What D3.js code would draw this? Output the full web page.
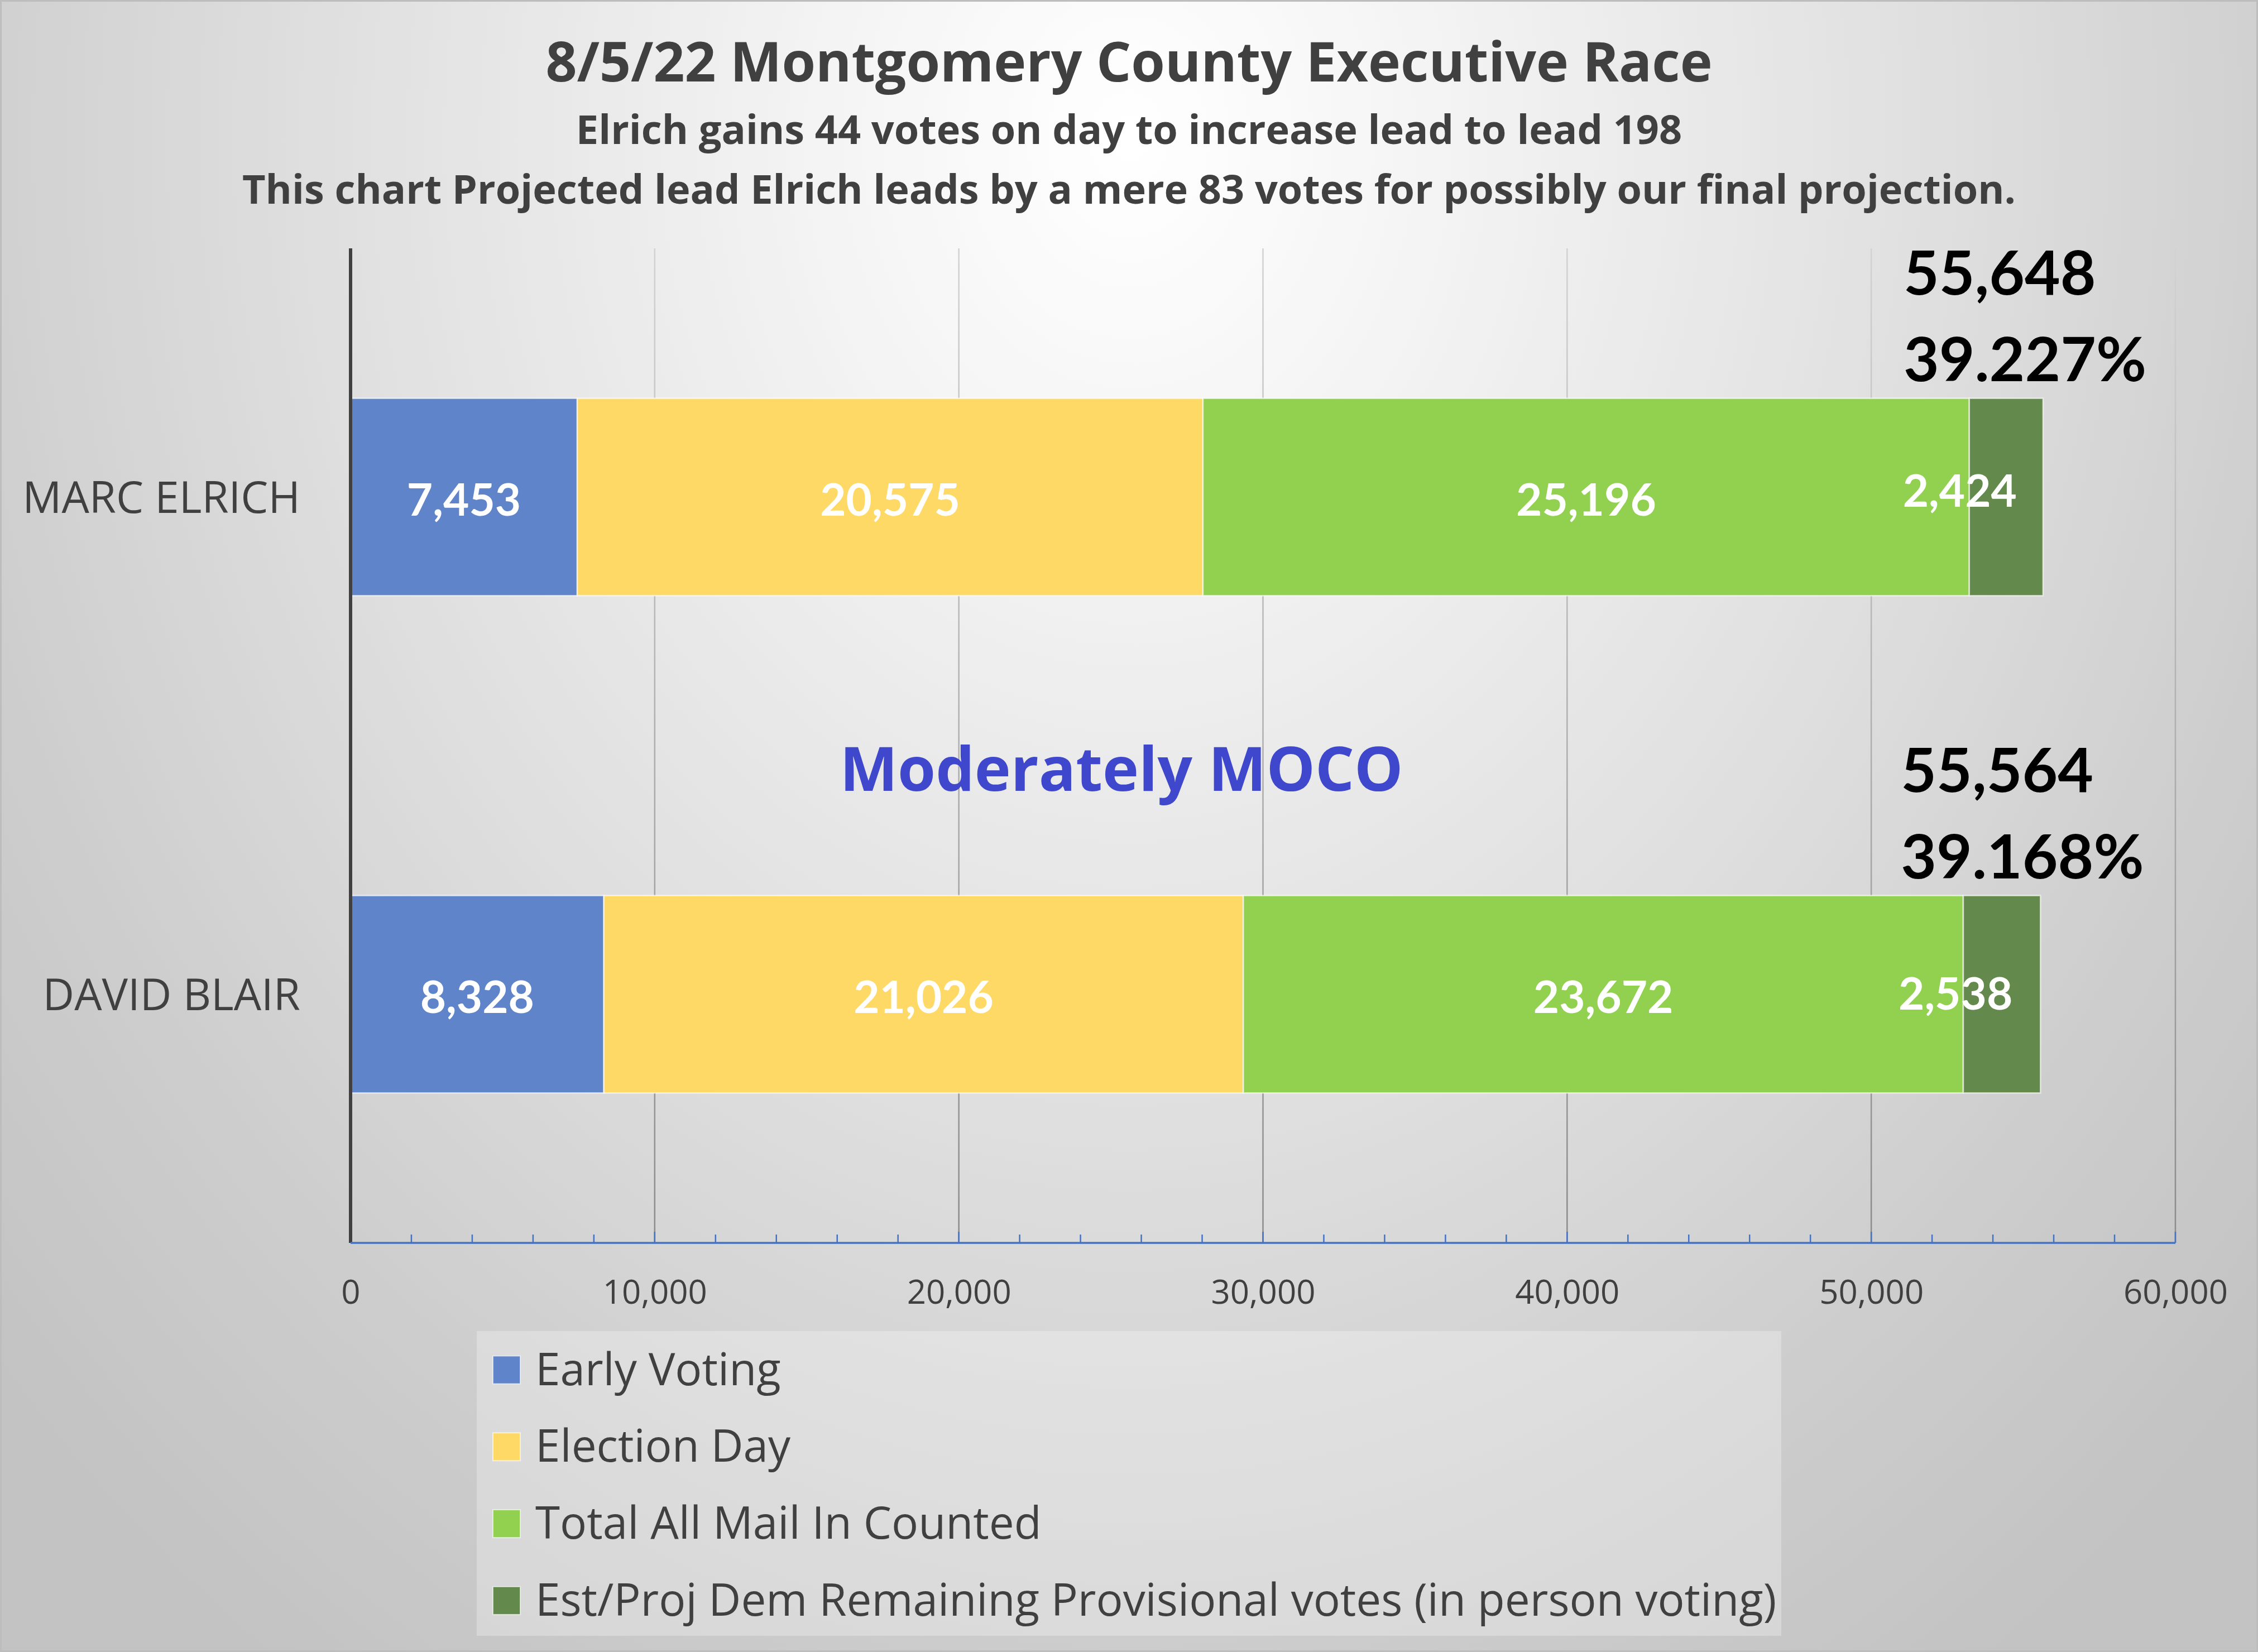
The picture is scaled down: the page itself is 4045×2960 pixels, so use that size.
<!DOCTYPE html>
<html><head><meta charset="utf-8">
<script src="https://cdn.jsdelivr.net/npm/d3@7"></script>
<style>html,body{margin:0;padding:0;background:#fff}svg{display:block}</style>
</head><body>
<script>
// ---- data ----
const categories = ["MARC ELRICH", "DAVID BLAIR"];
const seriesNames = ["Early Voting", "Election Day", "Total All Mail In Counted", "Est/Proj Dem Remaining Provisional votes (in person voting)"];
const earlyVoting = [7453, 8328];
const electionDay = [20575, 21026];
const mailInCounted = [25196, 23672];
const provisional = [2424, 2538];
const totals = [55648, 55564];
const percents = ["39.227%", "39.168%"];
const xTickValues = [0, 10000, 20000, 30000, 40000, 50000, 60000];
const titleText = "8/5/22 Montgomery County Executive Race";
const subtitleLines = ["Elrich gains 44 votes on day to increase lead to lead 198",
  "This chart Projected lead Elrich leads by a mere 83 votes for possibly our final projection."];
const watermark = "Moderately MOCO";
const seriesColors = ["#5F84C9", "#FFD966", "#92D050", "#64894C"];

// ---- layout ----
const W = 4045, H = 2960;
const plot = {left: 628, right: 3897, top: 445, bottom: 2227};
const svg = d3.select("body").append("svg").attr("width", W).attr("height", H);
const defs = svg.append("defs");

const bg = defs.append("radialGradient").attr("id", "bg").attr("gradientUnits", "userSpaceOnUse")
  .attr("cx", 2022).attr("cy", 250).attr("r", 3300)
  .attr("gradientTransform", "translate(2022,250) scale(0.82,1) translate(-2022,-250)");
[[0, "#ffffff"], [0.2, "#f4f4f4"], [0.55, "#dedede"], [0.8, "#cdcdcd"], [1, "#c3c3c3"]].forEach(s =>
  bg.append("stop").attr("offset", s[0]).attr("stop-color", s[1]));

const gg = defs.append("linearGradient").attr("id", "grid").attr("gradientUnits", "userSpaceOnUse")
  .attr("x1", 0).attr("y1", plot.top).attr("x2", 0).attr("y2", plot.bottom);
gg.append("stop").attr("offset", 0).attr("stop-color", "#d2d2d2");
gg.append("stop").attr("offset", 1).attr("stop-color", "#8a8a8a");

svg.append("rect").attr("width", W).attr("height", H).attr("fill", "url(#bg)");
svg.append("rect").attr("x", 1.5).attr("y", 1.5).attr("width", W - 3).attr("height", H - 3)
  .attr("fill", "none").attr("stroke", "#bdbdbd").attr("stroke-width", 3);

// ---- scales ----
const x = d3.scaleLinear().domain([0, 60000]).range([plot.left, plot.right]);
const y = d3.scaleBand().domain(categories).range([plot.top, plot.bottom])
  .paddingInner(0.603).paddingOuter(0.3015);

// ---- titles ----
const sans = "'Open Sans', 'Noto Sans', sans-serif";
const calib = "Lato, 'Open Sans', sans-serif";
svg.append("text").attr("x", W / 2).attr("y", 146).attr("text-anchor", "middle")
  .attr("font-family", sans).attr("font-weight", 700).attr("font-size", 98).attr("fill", "#404040")
  .text(titleText);
svg.selectAll("text.sub").data(subtitleLines).join("text").attr("class", "sub")
  .attr("x", W / 2).attr("y", (d, i) => 258 + i * 107).attr("text-anchor", "middle")
  .attr("font-family", sans).attr("font-weight", 700).attr("font-size", 72).attr("fill", "#404040")
  .text(d => d);

// ---- gridlines ----
svg.append("g").selectAll("line").data(xTickValues.filter(v => v > 0)).join("line")
  .attr("x1", d => x(d)).attr("x2", d => x(d)).attr("y1", plot.top).attr("y2", plot.bottom)
  .attr("stroke", "url(#grid)").attr("stroke-width", 2.5);

// ---- watermark ----
svg.append("text").attr("x", 2009).attr("y", 1417).attr("text-anchor", "middle")
  .attr("font-family", sans).attr("font-weight", 700).attr("font-size", 110).attr("fill", "#3F48CC")
  .text(watermark);

// ---- stacked bars ----
const rows = categories.map((c, i) => ({cat: c, "0": earlyVoting[i], "1": electionDay[i], "2": mailInCounted[i], "3": provisional[i]}));
const stack = d3.stack().keys(["0", "1", "2", "3"]);
const layers = stack(rows);
const gBars = svg.append("g");
layers.forEach((layer, li) => {
  gBars.selectAll(null).data(layer).join("rect")
    .attr("x", d => x(d[0])).attr("width", d => x(d[1]) - x(d[0]))
    .attr("y", d => y(d.data.cat)).attr("height", y.bandwidth())
    .attr("fill", seriesColors[li]).attr("stroke", "rgba(255,255,255,0.65)").attr("stroke-width", 2.5);
});
// segment labels
layers.forEach((layer, li) => {
  const dx = li === 3 ? -83 : 0;
  gBars.selectAll(null).data(layer).join("text")
    .attr("x", d => (x(d[0]) + x(d[1])) / 2 + dx)
    .attr("y", (d, i) => y(d.data.cat) + y.bandwidth() / 2 + (li === 3 ? (i === 0 ? -14 : -4) : 2))
    .attr("text-anchor", "middle").attr("dominant-baseline", "central")
    .attr("font-family", calib).attr("font-weight", 700).attr("font-size", 80).attr("fill", "#ffffff")
    .text(d => d3.format(",")(d[1] - d[0]));
});
// totals
categories.forEach((c, i) => {
  const t = svg.append("text").attr("font-family", calib).attr("font-weight", 700)
    .attr("font-size", 110).attr("fill", "#000000");
  t.append("tspan").attr("x", x(totals[i]) - 250).attr("y", y(c) - 186).text(d3.format(",")(totals[i]));
  t.append("tspan").attr("x", x(totals[i]) - 250).attr("y", y(c) - 31).text(percents[i]);
});

// ---- axes ----
svg.append("line").attr("x1", plot.left).attr("x2", plot.left).attr("y1", plot.top).attr("y2", plot.bottom)
  .attr("stroke", "#404040").attr("stroke-width", 6);
const xAxis = d3.axisBottom(x).tickValues(xTickValues).tickSize(0).tickPadding(0).tickFormat(d3.format(","));
const ga = svg.append("g").attr("transform", `translate(0,${plot.bottom})`).call(xAxis);
ga.select(".domain").remove();
ga.selectAll("text").attr("font-family", sans).attr("font-size", 60).attr("fill", "#404040")
  .attr("dy", null).attr("y", 109);
svg.append("g").selectAll("line").data(d3.range(2000, 60001, 2000)).join("line")
  .attr("x1", d => x(d)).attr("x2", d => x(d))
  .attr("y1", d => d % 10000 === 0 ? plot.bottom - 20 : plot.bottom - 15).attr("y2", plot.bottom)
  .attr("stroke", "#4472C4").attr("stroke-width", 2.5);
svg.append("line").attr("x1", plot.left).attr("x2", plot.right).attr("y1", plot.bottom).attr("y2", plot.bottom)
  .attr("stroke", "#4472C4").attr("stroke-width", 3.5);

// ---- category labels ----
svg.append("g").selectAll("text").data(categories).join("text")
  .attr("x", 538).attr("y", d => y(d) + y.bandwidth() / 2 + 28).attr("text-anchor", "end")
  .attr("font-family", sans).attr("font-size", 78).attr("fill", "#404040").text(d => d);

// ---- legend ----
const lg = svg.append("g");
lg.append("rect").attr("x", 854).attr("y", 2385).attr("width", 2337).attr("height", 546)
  .attr("fill", "rgba(255,255,255,0.28)");
const items = lg.selectAll("g").data(seriesNames).join("g")
  .attr("transform", (d, i) => `translate(0,${2454.5 + i * 137.8})`);
items.append("rect").attr("x", 883).attr("y", -25).attr("width", 49).attr("height", 50)
  .attr("fill", (d, i) => seriesColors[i]).attr("stroke", "rgba(255,255,255,0.6)").attr("stroke-width", 2);
items.append("text").attr("x", 959).attr("y", 27).attr("font-family", sans).attr("font-size", 80)
  .attr("fill", "#404040").text(d => d);
</script>
</body></html>
